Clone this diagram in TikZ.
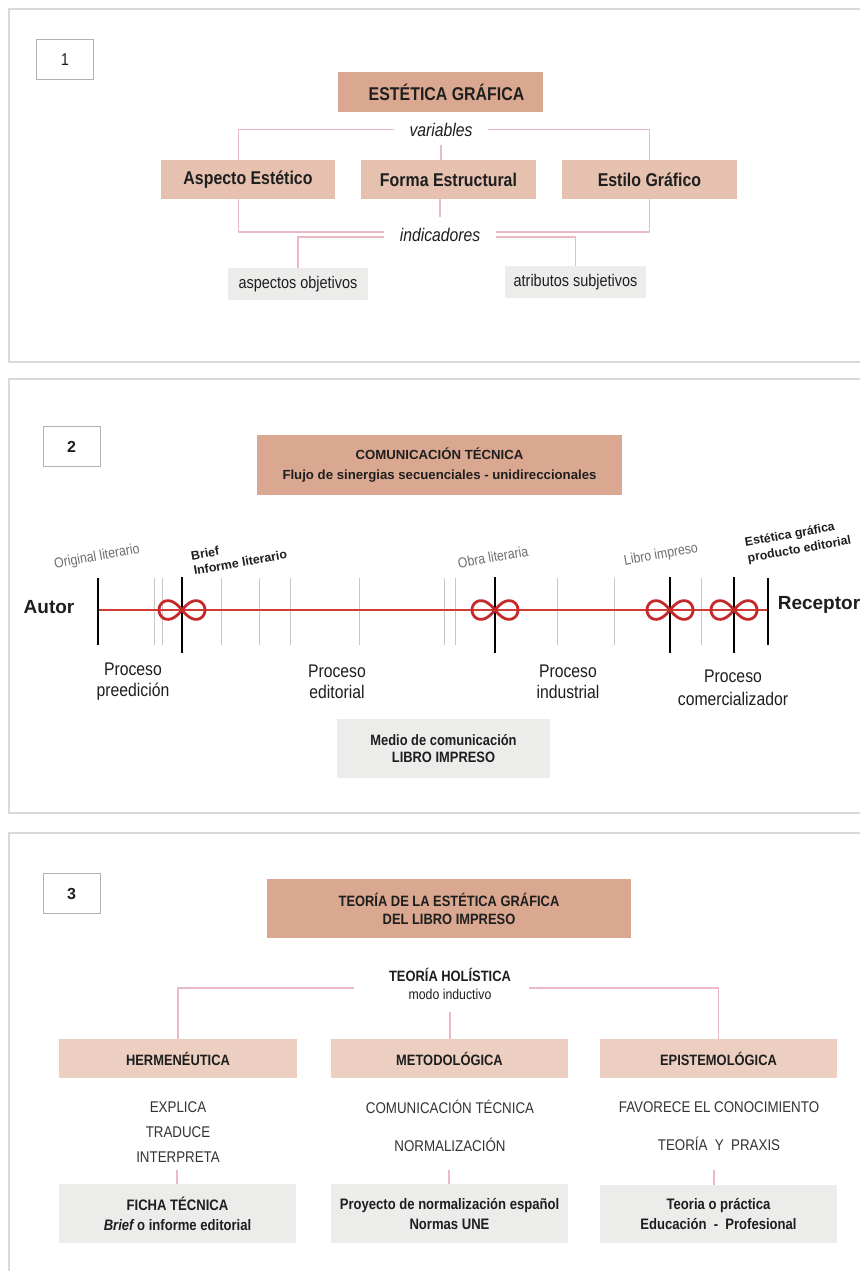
\documentclass[tikz,border=0pt]{standalone}
\usepackage{fontspec}
\setmainfont{Liberation Sans}
\newfontfamily\nar{Liberation Sans}[FakeStretch=0.86]
\newcommand\fsz[2]{\fontsize{#1}{#2}\selectfont}
\definecolor{salA}{HTML}{DAA891}
\definecolor{salB}{HTML}{E6C1AF}
\definecolor{salC}{HTML}{EDCFC1}
\definecolor{grayBox}{HTML}{ECECEB}
\definecolor{pinkLine}{HTML}{EBBAC4}
\definecolor{frameGray}{HTML}{D9D9D9}
\definecolor{redLine}{HTML}{D23A35}
\definecolor{infRed}{HTML}{C42A2A}
\definecolor{ink}{HTML}{1E1E1E}
\definecolor{soft}{HTML}{6E6E6E}
\tikzset{
  frame/.style={draw=frameGray, line width=1.6pt},
  numbox/.style={draw=black!30, fill=white, line width=1pt, minimum width=57pt, minimum height=40pt, inner sep=0pt, text=ink},
  box/.style={inner sep=0pt, align=center, text=ink},
  link/.style={draw=pinkLine, line width=1.1pt},
  tick/.style={draw=black!22, line width=0.8pt},
  milestone/.style={draw=black, line width=1.4pt},
  loopline/.style={draw=infRed, line width=2.8pt},
  lbl/.style={inner sep=0pt, align=center, text=ink},
}
\begin{document}
\begin{tikzpicture}[x=1pt, y=-1pt]
\useasboundingbox (0,0) rectangle (860,1271);
\fill[white] (0,0) rectangle (860,1271);

% three panel frames, open at the right
\begin{scope}
  \clip (0,0) rectangle (860,1271);
  \draw[frame] (9,9) rectangle (890,362);
  \draw[frame] (9,379) rectangle (890,813);
  \draw[frame] (9,833) rectangle (890,1300);
\end{scope}

% ---------------- panel 1 ----------------
\node[numbox, font=\nar\fsz{17}{20}] (n1) at (65,59.5) {1};
\node[box, fill=salA, minimum width=205pt, minimum height=40pt, font=\nar\bfseries\fsz{18.5}{22}] (eg) at (440.5,92) {\hspace{12pt}ESTÉTICA GRÁFICA};
\node[box, fill=salB, minimum width=174pt, minimum height=39pt, font=\nar\bfseries\fsz{18.5}{22}] (ae) at (248,179.5) {Aspecto Estético};
\node[box, fill=salB, minimum width=175pt, minimum height=39pt, font=\nar\bfseries\fsz{18.5}{22}] (fe) at (448.5,179.5) {Forma Estructural};
\node[box, fill=salB, minimum width=175pt, minimum height=39pt, font=\nar\bfseries\fsz{18.5}{22}] (es) at (649.5,179.5) {Estilo Gráfico};
\node[box, minimum width=93pt, minimum height=31pt, font=\nar\itshape\fsz{18.3}{21}] (var) at (441,129.5) {variables};
\node[box, minimum width=112pt, minimum height=35pt, font=\nar\itshape\fsz{18.3}{21}] (ind) at (440,234.5) {indicadores};
\node[box, fill=grayBox, minimum width=140pt, minimum height=32pt, font=\nar\fsz{16.8}{20}] (ao) at (298,284) {aspectos objetivos};
\node[box, fill=grayBox, minimum width=141pt, minimum height=32pt, font=\nar\fsz{16.8}{20}] (at) at (575.5,282) {atributos subjetivos};

\draw[link] (var.west) -| ([xshift=-9.5pt]ae.north);
\draw[link] (var.east) -| (es.north);
\draw[link] (var.south) -- (var.south |- fe.north);
\draw[link] ([xshift=-9.5pt]ae.south) |- ([yshift=2.5pt]ind.west);
\draw[link] (es.south) |- ([yshift=2.5pt]ind.east);
\draw[link] ([yshift=-2.5pt]ind.west) -| (ao.north);
\draw[link] ([yshift=-2.5pt]ind.east) -| (at.north);
\draw[link] (fe.south -| ind.north) -- (ind.north);

% ---------------- panel 2 ----------------
\node[numbox, font=\bfseries\fsz{16}{19}] (n2) at (71.5,446.5) {2};
\node[box, fill=salA, minimum width=365pt, minimum height=60pt, font=\bfseries\fsz{13.2}{20}] (ct) at (439.5,465)
  {COMUNICACIÓN TÉCNICA\\Flujo de sinergias secuenciales - unidireccionales};

\node[lbl, font=\bfseries\fsz{19}{22}] (autor) at (49,607) {Autor};
\node[lbl, font=\bfseries\fsz{19}{22}] (receptor) at (819,605) {Receptor};

\coordinate (t0) at (98,610);
\coordinate (t1) at (768,610);
% secondary grid ticks
\foreach \x in {154,162,221,259,290,359,444,455,557,614,701}
  \draw[tick] (\x,578) -- (\x,645);
\draw[redLine, line width=1.1pt] (t0) -- (t1);
% milestone marks with their lemniscate symbols
\draw[milestone] (98,578) -- (98,645);
\draw[milestone] (768,578) -- (768,645);
\foreach \x in {182,495,670,734}{
  \draw[milestone] (\x,577) -- (\x,653);
  \draw[loopline] plot[domain=0:360, samples=91, smooth, variable=\t]
    ({\x + 23*cos(\t)/(1+sin(\t)^2)}, {610 + 1.15*23*sin(\t)*cos(\t)/(1+sin(\t)^2)}) -- cycle;
}

\node[lbl, text=soft, rotate=10, font=\nar\fsz{14.3}{16}] (ol) at (97,557) {Original literario};
\node[lbl, rotate=10, align=left, font=\bfseries\fsz{12.4}{15}] (bi) at (239,555) {Brief\\Informe literario};
\node[lbl, text=soft, rotate=10, font=\nar\fsz{14.3}{16}] (obl) at (493,557) {Obra literaria};
\node[lbl, text=soft, rotate=10, font=\nar\fsz{14.3}{16}] (lim) at (661,555) {Libro impreso};
\node[lbl, rotate=10, align=left, font=\bfseries\fsz{12.3}{16}] (egp) at (798,542) {Estética gráfica\\producto editorial};

\node[lbl, font=\nar\fsz{18.3}{21}] (p1) at (133,682) {Proceso\\preedición};
\node[lbl, font=\nar\fsz{18.3}{21}] (p2) at (337,682) {Proceso\\editorial};
\node[lbl, font=\nar\fsz{18.3}{21}] (p3) at (568,682) {Proceso\\industrial};
\node[lbl, font=\nar\fsz{18.3}{23}] (p4) at (733,688) {Proceso\\comercializador};

\node[box, fill=grayBox, minimum width=213pt, minimum height=59pt, font=\nar\bfseries\fsz{15}{17}] (medio) at (443.5,748.5)
  {Medio de comunicación\\LIBRO IMPRESO};

% ---------------- panel 3 ----------------
\node[numbox, font=\bfseries\fsz{16}{19}] (n3) at (71.5,893.5) {3};
\node[box, fill=salA, minimum width=364pt, minimum height=59pt, font=\nar\bfseries\fsz{15}{18}] (tt) at (449,908.5)
  {TEORÍA DE LA ESTÉTICA GRÁFICA\\DEL LIBRO IMPRESO};
\node[lbl, font=\nar\fsz{14.3}{18}] (th) at (450,984)
  {{\bfseries\fsz{15}{18}TEORÍA HOLÍSTICA}\\modo inductivo};

\node[box, fill=salC, minimum width=238pt, minimum height=39pt, font=\nar\bfseries\fsz{15}{18}] (he) at (178,1058.5) {HERMENÉUTICA};
\node[box, fill=salC, minimum width=237pt, minimum height=39pt, font=\nar\bfseries\fsz{15}{18}] (me) at (449.5,1058.5) {METODOLÓGICA};
\node[box, fill=salC, minimum width=237pt, minimum height=39pt, font=\nar\bfseries\fsz{15}{18}] (ep) at (718.5,1058.5) {EPISTEMOLÓGICA};

\coordinate (thl) at (354,988);
\coordinate (thr) at (529,988);
\coordinate (thm) at (450,1012);
\draw[link] (thl) -| (he.north);
\draw[link] (thr) -| (ep.north);
\draw[link] (thm) -- (thm |- me.north);

\node[lbl, text=black!80, font=\nar\fsz{15.5}{25}] (hl) at (178,1132) {EXPLICA\\TRADUCE\\INTERPRETA};
\node[lbl, text=black!80, font=\nar\fsz{15.5}{38}] (ml) at (450,1126) {COMUNICACIÓN TÉCNICA\\NORMALIZACIÓN};
\node[lbl, text=black!80, font=\nar\fsz{15.5}{38}] (el) at (719,1126) {FAVORECE EL CONOCIMIENTO\\TEORÍA\ \ Y\ \ PRAXIS};

\node[box, fill=grayBox, minimum width=237pt, minimum height=59pt, font=\nar\bfseries\fsz{15.2}{20}] (hg) at (177.5,1213.5)
  {FICHA TÉCNICA\\{\itshape Brief} o informe editorial};
\node[box, fill=grayBox, minimum width=237pt, minimum height=59pt, font=\nar\bfseries\fsz{15.2}{20}] (mg) at (449.5,1213.5)
  {Proyecto de normalización español\\Normas UNE};
\node[box, fill=grayBox, minimum width=237pt, minimum height=58pt, font=\nar\bfseries\fsz{15.2}{20}] (epg) at (718.5,1214)
  {Teoria o práctica\\Educación\ \ -\ \ Profesional};

\coordinate (hc) at (177,1170);
\coordinate (mc) at (449,1170);
\coordinate (ec) at (714,1170);
\draw[link] (hc) -- (hc |- hg.north);
\draw[link] (mc) -- (mc |- mg.north);
\draw[link] (ec) -- (ec |- epg.north);
\end{tikzpicture}
\end{document}
